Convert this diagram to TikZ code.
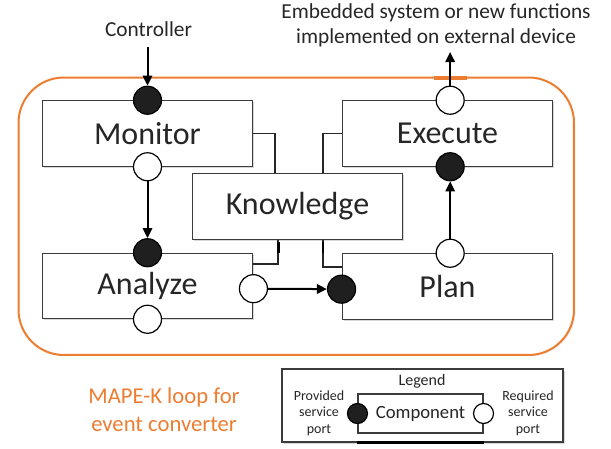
\documentclass[tikz,border=0pt]{standalone}
\usepackage{fontspec}
\setmainfont{Carlito}
\usetikzlibrary{arrows.meta,shadows}
\definecolor{loopOrange}{HTML}{ED7D31}
\definecolor{lineGray}{HTML}{3C3C3C}
\definecolor{textGray}{HTML}{262626}

\tikzset{
    block/.style={draw=lineGray, line width=0.9pt, fill=white, rectangle,
        minimum width=158pt, minimum height=49pt, text=textGray,
        font=\fontsize{24}{28}\selectfont,
        drop shadow={shadow xshift=1.2pt, shadow yshift=-1.2pt, fill=black!30, opacity=0.5}},
    provport/.style={draw=black, line width=0.9pt, circle, fill=black!88,
        minimum size=21pt, inner sep=0pt},
    reqport/.style={draw=black, line width=0.9pt, circle, fill=white,
        minimum size=21pt, inner sep=0pt},
    flow/.style={-{Triangle[length=7.5pt,width=7pt]}, line width=1.5pt},
    klink/.style={draw=black!85, line width=1.1pt},
    note/.style={text=textGray, font=\fontsize{16}{19}\selectfont, align=center}
}

\begin{document}
\begin{tikzpicture}[x=0.75pt, y=-0.75pt]
    \useasboundingbox (0,0) rectangle (611,449);

    % loop frame
    \node (loop) at (296.25,216.25) [draw=loopOrange, line width=1.5pt, rounded corners=34pt,
        minimum width=416.6pt, minimum height=208.1pt,
        drop shadow={shadow xshift=1pt, shadow yshift=-1pt, fill=black!15, opacity=0.5}, fill=white] {};
    \draw[loopOrange, line width=2.6pt] (434,78) -- (467,78);

    \node (Monitor) at (147.5,133.5) [block] {Monitor};
    \node (Analyze) at (147.5,286) [block] {Analyze};
    \node (Knowledge) at (297.5,206.5) [block] {Knowledge};
    \node (Execute) at (447.5,133.5) [block] {Execute};
    \node (Plan) at (447.5,286.5) [block] {Plan};

    \draw[klink] (Monitor.east) -| ([xshift=-16.9pt]Knowledge.north);
    \draw[klink] (Execute.west) -| ([xshift=19.1pt]Knowledge.north);
    \draw[klink] ([yshift=16.5pt]Analyze.east) -| ([xshift=-14.6pt]Knowledge.south);
    \draw[klink] ([yshift=14.6pt]Plan.west) -| ([xshift=19.1pt]Knowledge.south);
    \draw[line width=2.2pt] ([xshift=-14.6pt,yshift=-2pt]Knowledge.south) -- ([xshift=-14.6pt,yshift=-10pt]Knowledge.south);
    \draw[line width=1.6pt] ([xshift=19.1pt,yshift=-2pt]Knowledge.south) -- ([xshift=19.1pt,yshift=-10pt]Knowledge.south);

    \node (mIn) at (Monitor.north) [provport] {};
    \node (mOut) at (Monitor.south) [reqport] {};
    \node (aIn) at (Analyze.north) [provport] {};
    \node (aOut) at ([yshift=-2pt]Analyze.east) [reqport] {};
    \node (aBot) at (Analyze.south) [reqport] {};
    \node (pIn) at ([yshift=-2pt]Plan.west) [provport] {};
    \node (pOut) at ([xshift=2pt]Plan.north) [reqport] {};
    \node (eIn) at ([xshift=2pt]Execute.south) [provport] {};
    \node (eOut) at ([xshift=2pt]Execute.north) [reqport] {};

    \draw[flow] (mOut) -- (aIn);
    \draw[flow] (aOut) -- (pIn);
    \draw[flow] (pOut) -- (eIn);

    \node (ctrl) at (148.5,29) [note] {Controller};
    \node (ext) at (436,25.5) [note] {Embedded system or new functions\\implemented on external device};
    \draw[flow] ([yshift=-4pt]ctrl.south -| mIn) -- (mIn);
    \draw[flow] (eOut) -- (ext.south -| eOut);

    \node (title) at (164,410) [text=loopOrange, font=\fontsize{17}{21}\selectfont, align=center]
        {MAPE-K loop for\\event converter};

    % legend
    \node (legend) at (422.5,405.5) [draw=lineGray, line width=0.8pt, fill=white,
        minimum width=210.75pt, minimum height=54.75pt,
        drop shadow={shadow xshift=1.2pt, shadow yshift=-1.2pt, fill=black!30, opacity=0.5}] {};
    \node (legTitle) at (422,381) [text=textGray, font=\fontsize{12}{14}\selectfont] {Legend};
    \node (comp) at (420.5,413.5) [draw=lineGray, line width=0.8pt, fill=white,
        minimum width=93.75pt, minimum height=29.25pt, text=textGray,
        font=\fontsize{14}{17}\selectfont] {Component};
    \draw[line width=2.2pt] (comp.south west |- legend.south) -- (comp.south east |- legend.south);
    \node (cIn) at (comp.west) [provport, minimum size=15pt] {};
    \node (cOut) at (comp.east) [reqport, minimum size=15pt] {};
    \node (provTxt) at (319,413) [text=textGray, font=\fontsize{10.5}{12.5}\selectfont, align=center]
        {Provided\\service\\port};
    \node (reqTxt) at (528,413) [text=textGray, font=\fontsize{10.5}{12.5}\selectfont, align=center]
        {Required\\service\\port};
\end{tikzpicture}
\end{document}
